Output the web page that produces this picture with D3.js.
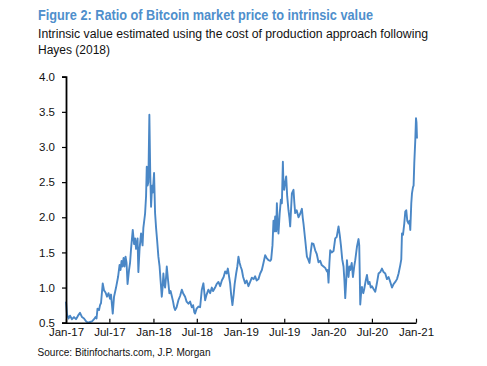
<!DOCTYPE html>
<html><head><meta charset="utf-8">
<script src="https://cdn.jsdelivr.net/npm/d3@7"></script>
<style>body{margin:0;background:#fff;}svg{display:block;}</style>
</head><body>
<svg id="c" width="487" height="366"></svg>
<script>
const title = "Figure 2: Ratio of Bitcoin market price to intrinsic value";
const subtitle = ["Intrinsic value estimated using the cost of production approach following", "Hayes (2018)"];
const source = "Source: Bitinfocharts.com, J.P. Morgan";
const yTicks = [0.5, 1.0, 1.5, 2.0, 2.5, 3.0, 3.5, 4.0];
const xTickLabels = ["Jan-17","Jul-17","Jan-18","Jul-18","Jan-19","Jul-19","Jan-20","Jul-20","Jan-21"];
// decimal year offsets from 2017-01-01
const times = [0,0.0114,0.0286,0.0458,0.0686,0.0915,0.1144,0.1373,0.1601,0.1830,0.2059,0.2288,0.2516,0.2745,0.2974,0.3203,0.3374,0.3489,0.3603,0.3775,0.3889,0.4003,0.4198,0.4346,0.4518,0.4690,0.4861,0.5032,0.5147,0.5342,0.5490,0.5719,0.5948,0.6119,0.6234,0.6348,0.6462,0.6577,0.6691,0.6806,0.6920,0.7034,0.7206,0.7320,0.7435,0.7629,0.7778,0.7892,0.8007,0.8178,0.8270,0.8407,0.8579,0.8750,0.8841,0.9036,0.9150,0.9230,0.9322,0.9413,0.9528,0.9631,0.9722,0.9837,0.9917,1.0065,1.0180,1.0294,1.0409,1.0557,1.0695,1.0809,1.0946,1.1038,1.1129,1.1232,1.1324,1.1438,1.1518,1.1667,1.1815,1.1953,1.2090,1.2239,1.2353,1.2467,1.2639,1.2845,1.3039,1.3234,1.3382,1.3611,1.3783,1.3989,1.4183,1.4377,1.4526,1.4663,1.4755,1.4926,1.5132,1.5327,1.5521,1.5704,1.5899,1.6070,1.6276,1.6471,1.6665,1.6814,1.7043,1.7214,1.7420,1.7615,1.7809,1.8015,1.8186,1.8358,1.8495,1.8644,1.8758,1.8873,1.9021,1.9159,1.9273,1.9445,1.9582,1.9708,1.9845,1.9959,2.0097,2.0245,2.0474,2.0646,2.0851,2.1046,2.1240,2.1446,2.1618,2.1789,2.1995,2.2190,2.2384,2.2567,2.2762,2.2933,2.3139,2.3334,2.3448,2.3597,2.3711,2.3814,2.3905,2.4020,2.4100,2.4191,2.4283,2.4420,2.4558,2.4672,2.4786,2.4855,2.4935,2.5050,2.5164,2.5278,2.5427,2.5530,2.5621,2.5736,2.5816,2.5999,2.6102,2.6193,2.6365,2.6571,2.6765,2.6960,2.7051,2.7143,2.7337,2.7532,2.7680,2.7829,2.7966,2.8103,2.8286,2.8481,2.8652,2.8858,2.9053,2.9224,2.9430,2.9624,2.9819,2.9910,3.0002,3.0105,3.0196,3.0368,3.0574,3.0768,3.0940,3.1146,3.1283,3.1420,3.1569,3.1717,3.1820,3.1912,3.2026,3.2106,3.2198,3.2289,3.2392,3.2484,3.2655,3.2793,3.2941,3.3056,3.3250,3.3433,3.3513,3.3570,3.3628,3.3742,3.3822,3.3971,3.4085,3.4257,3.4394,3.4543,3.4691,3.4829,3.4966,3.5149,3.5343,3.5515,3.5721,3.5915,3.6110,3.6293,3.6487,3.6682,3.6865,3.7059,3.7254,3.7437,3.7631,3.7826,3.8009,3.8203,3.8317,3.8397,3.8512,3.8660,3.8775,3.8889,3.9004,3.9152,3.9255,3.9347,3.9461,3.9541,3.9656,3.9724,3.9804,3.9919,3.9999,4.0056,4.0113];
const ratio = [0.80,0.62,0.56,0.60,0.55,0.58,0.55,0.60,0.64,0.58,0.56,0.52,0.50,0.51,0.52,0.55,0.58,0.56,0.70,0.68,0.75,0.78,1.06,0.96,0.93,0.87,0.92,0.84,0.90,0.63,0.87,1.00,1.15,1.32,1.25,1.38,1.30,1.42,1.30,1.44,1.35,1.05,1.25,1.35,1.55,1.82,1.62,1.70,1.55,1.70,1.22,1.55,1.77,1.60,1.85,2.05,2.30,2.72,2.45,2.50,3.46,2.60,2.15,2.45,2.35,2.63,2.06,1.85,1.68,1.44,1.30,1.10,0.87,1.00,1.20,1.05,1.00,1.15,1.30,1.10,0.92,0.95,0.88,0.80,0.72,0.68,0.72,0.82,0.88,0.97,0.92,0.87,0.80,0.77,0.80,0.72,0.75,0.65,0.63,0.70,0.73,0.72,0.97,1.06,0.82,0.90,0.97,0.92,1.00,0.95,1.00,1.05,1.08,1.02,1.10,1.15,1.23,1.20,1.27,1.15,1.06,0.90,0.75,0.90,1.05,1.20,1.30,1.44,1.35,1.30,1.25,1.15,1.06,1.10,1.02,1.08,1.14,1.12,1.16,1.10,1.12,1.20,1.25,1.35,1.46,1.42,1.39,1.38,1.40,1.60,1.95,1.80,2.01,1.80,2.20,1.90,1.77,2.05,2.25,2.20,2.79,2.45,2.39,2.50,2.58,2.30,2.10,2.00,1.87,2.15,2.34,2.39,2.20,2.06,2.10,2.00,2.05,2.12,2.00,1.91,1.68,1.44,1.40,1.35,1.50,1.63,1.62,1.53,1.48,1.36,1.38,1.32,1.30,1.28,1.23,1.25,1.07,1.35,1.53,1.50,1.52,1.70,1.72,1.87,1.75,1.60,1.40,1.30,1.10,0.85,1.10,1.39,1.25,1.15,1.30,1.25,1.35,1.15,1.30,1.39,1.58,1.69,1.60,1.20,0.76,0.95,1.01,0.92,0.98,1.10,1.18,1.05,1.08,1.00,1.02,0.98,0.94,1.05,1.20,1.22,1.27,1.22,1.20,1.12,1.15,1.08,1.00,1.05,1.08,1.12,1.20,1.32,1.40,1.77,1.75,1.91,2.08,2.10,1.95,1.91,1.95,1.82,2.20,2.34,2.43,2.45,2.77,3.10,3.41,3.35,3.12];

const start = Date.UTC(2017,0,1);
const yearMs = 365.25*864e5;
const data = times.map((t,i)=>({d:new Date(start + t*yearMs), v:ratio[i]}));
const tickDates = xTickLabels.map((s,i)=>d3.utcMonth.offset(new Date(start), i*6));

const svg = d3.select("#c");
const font = "'Liberation Sans', Arial, sans-serif";
const L=66, R=416, T=76.7, B=322.7;
const x = d3.scaleUtc().domain([tickDates[0], tickDates[tickDates.length-1]]).range([L,R]);
const y = d3.scaleLinear().domain([0.5,4.0]).range([B,T]);

svg.append("text").attr("x",38).attr("y",20).attr("font-family",font).attr("font-weight","bold")
  .attr("font-size",14.2).attr("fill","#4f8fcc").attr("textLength",335).attr("lengthAdjust","spacingAndGlyphs").text(title);
subtitle.forEach((s,i)=>{
  const t = svg.append("text").attr("x",38).attr("y",37.5+i*16.5).attr("font-family",font)
    .attr("font-size",12).attr("fill","#111").text(s);
  if(i===0) t.attr("textLength",390).attr("lengthAdjust","spacingAndGlyphs");
});
svg.append("text").attr("x",37.5).attr("y",356).attr("font-family",font).attr("font-size",10.5)
  .attr("fill","#111").attr("textLength",173).attr("lengthAdjust","spacingAndGlyphs").text(source);

// line
svg.append("path").datum(data).attr("fill","none").attr("stroke","#4a87c6").attr("stroke-width",1.9)
  .attr("stroke-linejoin","round")
  .attr("d", d3.line().x(d=>x(d.d)).y(d=>y(d.v)));

// y axis
const ya = svg.append("g").attr("transform",`translate(${L},0)`)
  .call(d3.axisLeft(y).tickValues(yTicks).tickFormat(d3.format(".1f")).tickSize(4).tickPadding(7));
ya.select(".domain").attr("stroke","#000").attr("stroke-width",1.8);
ya.selectAll(".tick line").attr("stroke","#000").attr("stroke-width",1.2);
ya.selectAll("text").attr("font-family",font).attr("font-size",11.5).attr("fill","#111");

// x axis
const xa = svg.append("g").attr("transform",`translate(0,${B})`)
  .call(d3.axisBottom(x).tickValues(tickDates).tickFormat((d,i)=>xTickLabels[i]).tickSizeInner(-4).tickSizeOuter(0).tickPadding(4));
xa.select(".domain").attr("stroke","#000").attr("stroke-width",1.6);
xa.selectAll(".tick line").attr("stroke","#000").attr("stroke-width",1.2);
xa.selectAll("text").attr("font-family",font).attr("font-size",11.5).attr("fill","#111").attr("dy","0.85em");
</script>
</body></html>
